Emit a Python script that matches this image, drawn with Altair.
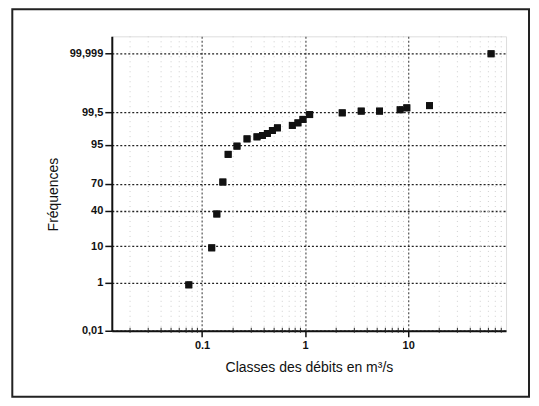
import altair as alt
import pandas as pd
from statistics import NormalDist

# ---- data ----
debits = [0.0743, 0.124, 0.139, 0.159, 0.179, 0.218, 0.273, 0.341, 0.385, 0.430,
          0.481, 0.538, 0.751, 0.851, 0.952, 1.106, 2.29, 3.50, 5.27, 8.36,
          9.69, 16.1, 63.7]
frequences = [0.83, 9.2, 36.2, 71.5, 91.4, 94.55, 96.5, 96.93, 97.2, 97.55,
              98.0, 98.34, 98.61, 98.85, 99.12, 99.40, 99.48, 99.55, 99.55, 99.60,
              99.66, 99.72, 99.999]

y_tick_probs = [0.01, 1, 10, 40, 70, 95, 99.5, 99.999]
y_tick_labels = ["0,01", "1", "10", "40", "70", "95", "99,5", "99,999"]
x_major = [0.1, 1, 10]
x_minor = [0.02, 0.03, 0.04, 0.05, 0.06, 0.07, 0.08, 0.09,
           0.2, 0.3, 0.4, 0.5, 0.6, 0.7, 0.8, 0.9,
           2, 3, 4, 5, 6, 7, 8, 9,
           20, 30, 40, 50, 60, 70, 80]

nd = NormalDist()
def probit(p):
    return nd.inv_cdf(p / 100.0)

df = pd.DataFrame({"debit": debits, "freq": frequences,
                   "z": [probit(p) for p in frequences]})
minor_df = pd.DataFrame({"debit": x_minor})
frame_df = pd.DataFrame({"k": [0]})

y_ticks = [probit(p) for p in y_tick_probs]
expr = "'" + y_tick_labels[-1] + "'"
for i in range(len(y_ticks) - 2, -1, -1):
    mid = (y_ticks[i] + y_ticks[i + 1]) / 2
    expr = f"datum.value < {mid:.4f} ? '{y_tick_labels[i]}' : ({expr})"

W, H = 395, 295
xscale = alt.Scale(type="log", domain=[0.0133, 89], nice=False)
yscale = alt.Scale(domain=[probit(0.01), 4.768], nice=False, zero=False)

FONT = "Liberation Sans"

xaxis = alt.Axis(values=x_major, format="~g",
                 title="Classes des débits en m³/s",
                 grid=True, gridDash=[2, 2], gridColor="#444", gridWidth=1.1,
                 domainColor="#111", domainWidth=2,
                 tickColor="#111", tickSize=6, tickWidth=1.5,
                 labelFont=FONT, labelFontSize=11, labelFontWeight="bold",
                 labelColor="#111", labelPadding=3,
                 titleFont=FONT, titleFontSize=14, titleFontWeight="normal",
                 titleColor="#111", titlePadding=10)

yaxis = alt.Axis(values=y_ticks, labelExpr=expr,
                 title="Fréquences",
                 grid=True, gridDash=[2, 2], gridColor="#222", gridWidth=1.3,
                 domainColor="#111", domainWidth=2,
                 tickColor="#111", tickSize=7, tickWidth=1.5,
                 labelFont=FONT, labelFontSize=11, labelFontWeight="bold",
                 labelColor="#111", labelPadding=2,
                 titleFont=FONT, titleFontSize=14, titleFontWeight="normal",
                 titleColor="#111", titlePadding=9, titleY=158)

frame = alt.Chart(frame_df).mark_rect(
    fillOpacity=0, stroke="#222", strokeWidth=2
).encode(
    x=alt.value(-99.7), x2=alt.value(418),
    y=alt.value(-27), y2=alt.value(361)
)

points = alt.Chart(df).mark_square(size=48, color="#111", opacity=1).encode(
    x=alt.X("debit:Q", scale=xscale, axis=xaxis),
    y=alt.Y("z:Q", scale=yscale, axis=yaxis),
    tooltip=["debit", "freq"]
)

minor_grid = alt.Chart(minor_df).mark_rule(
    color="#cfcfcf", strokeDash=[1, 4], strokeWidth=1
).encode(x=alt.X("debit:Q", scale=xscale, axis=xaxis))

minor_ticks = alt.Chart(minor_df).mark_rule(color="#222", strokeWidth=1).encode(
    x=alt.X("debit:Q", scale=xscale, axis=xaxis),
    y=alt.value(H - 3), y2=alt.value(H + 2)
)

chart = alt.layer(points, minor_grid, minor_ticks, frame, points).properties(
    width=W, height=H,
    padding={"left": 3, "top": 0, "right": 0, "bottom": 0}
).configure_view(strokeWidth=0).configure(background="white")

chart.save("out.html", embed_options={"renderer": "svg", "actions": False})
